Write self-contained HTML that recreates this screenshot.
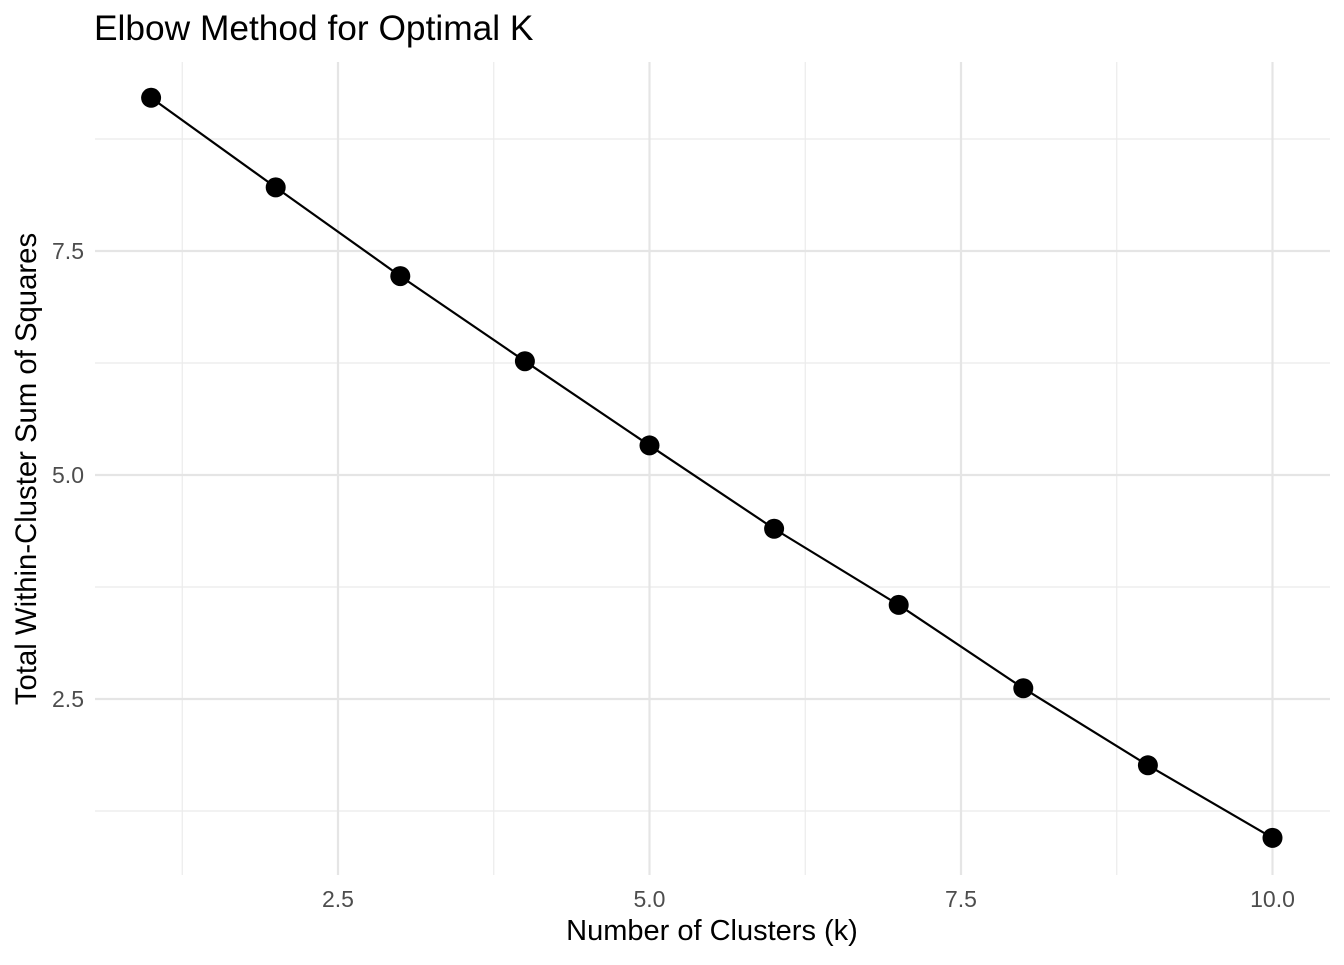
<!DOCTYPE html>
<html><head><meta charset="utf-8"><style>
body{margin:0;background:#fff;font-family:"Liberation Sans",Arial,sans-serif}
svg text{font-family:"Liberation Sans",Arial,sans-serif}
</style></head><body>
<svg id="chart" width="1344" height="960">
<text x="94" y="40" font-size="35.3" fill="#000">Elbow Method for Optimal K</text>
<g id="grid"></g><g id="marks"></g><g id="ticks"></g>
<text x="712" y="940" font-size="29" text-anchor="middle" fill="#000">Number of Clusters (k)</text>
<text transform="translate(36,469) rotate(-90)" font-size="29.3" text-anchor="middle" fill="#000">Total Within-Cluster Sum of Squares</text>
</svg>
<script>
const ks=[1,2,3,4,5,6,7,8,9,10];
const wss=[9.21,8.21,7.22,6.27,5.33,4.40,3.55,2.62,1.76,0.95];
const xTicks=[2.5,5.0,7.5,10.0];
const yTicks=[2.5,5.0,7.5];
const xMinor=[1.25,3.75,6.25,8.75];
const yMinor=[1.25,3.75,6.25,8.75];
const X=v=>338+(v-2.5)*124.6;
const Y=v=>475-(v-5)*89.6;
const NS="http://www.w3.org/2000/svg";
function mk(t,p,a){const e=document.createElementNS(NS,t);for(const k in a)e.setAttribute(k,a[k]);p.appendChild(e);return e;}
const g=document.getElementById('grid'),m=document.getElementById('marks'),tk=document.getElementById('ticks');
const L=95,R=1330,T=62,B=875;
xMinor.forEach(v=>{const e=mk('line',g,{x1:X(v),x2:X(v),y1:T,y2:B,stroke:'#ebebeb','stroke-width':1.2});

});
yMinor.forEach(v=>{const e=mk('line',g,{x1:L,x2:R,y1:Y(v),y2:Y(v),stroke:'#ebebeb','stroke-width':1.2});

});
xTicks.forEach(v=>{const e=mk('line',g,{x1:X(v),x2:X(v),y1:T,y2:B,stroke:'#e5e5e5','stroke-width':2.2});


const t=mk('text',tk,{x:X(v),y:907,'font-size':23,fill:'#4d4d4d','text-anchor':'middle'});t.textContent=v.toFixed(1);

});
yTicks.forEach(v=>{const e=mk('line',g,{x1:L,x2:R,y1:Y(v),y2:Y(v),stroke:'#e5e5e5','stroke-width':2.2});


const t=mk('text',tk,{x:84,y:Y(v)+8,'font-size':23,fill:'#4d4d4d','text-anchor':'end'});t.textContent=v.toFixed(1);

});
const line=mk('polyline',m,{points:ks.map((k,i)=>X(k)+','+Y(wss[i])).join(' '),fill:'none',stroke:'#000','stroke-width':2.2});


ks.forEach((k,i)=>{const c=mk('circle',m,{cx:X(k),cy:Y(wss[i]),r:10,fill:'#000'});

});
</script>
</body></html>
